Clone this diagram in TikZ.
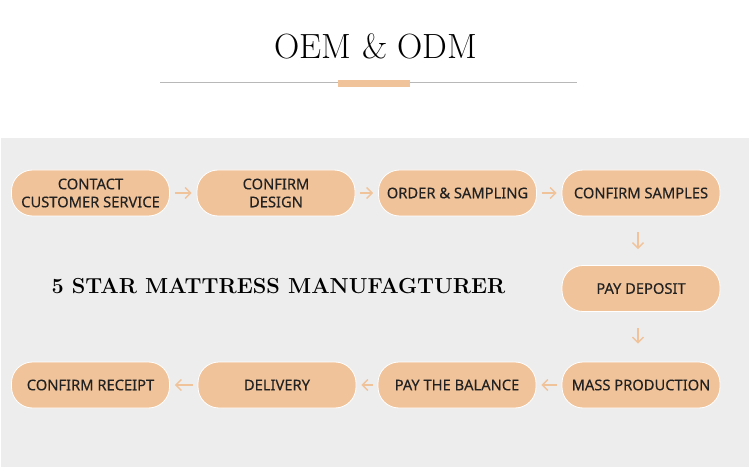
\documentclass[tikz,border=0pt]{standalone}
\usepackage{fontspec}
\newfontfamily\boxfont{Noto Sans}[FakeBold=0.25]
\usetikzlibrary{arrows.meta}
\definecolor{peach}{HTML}{F0C39A}
\definecolor{bggray}{HTML}{EDEDED}
\definecolor{txt}{HTML}{222222}
\begin{document}
\begin{tikzpicture}[x=1pt,y=-1pt,
  stepbox/.style={draw=white,line width=0.8pt,fill=peach,rounded corners=21pt,
    minimum width=158pt,minimum height=46pt,inner sep=0pt,align=center,
    font=\boxfont\fontsize{14.7}{18}\selectfont,text=txt},
  flow/.style={draw=peach,line width=1.4pt,-{Straight Barb[length=5.5pt,width=11pt]}}
]
\useasboundingbox (0,0) rectangle (750,473);
\fill[white] (0,0) rectangle (750,473);
\fill[bggray] (1,138) rectangle (749,467);
% title
\node[font=\fontsize{35}{40}\selectfont,text=black] (title) at (376,46) {OEM \& ODM};
\draw[draw=black!28,line width=0.8pt] (160,82) -- (577,82);
\fill[peach] (338,80) rectangle (410,87);
% side caption
\node[anchor=west,font=\bfseries\fontsize{21.7}{26}\selectfont,text=black] (cap) at (48,286) {5 STAR MATTRESS MANUFAGTURER};
% boxes
\node[stepbox] (a) at (90.5,193) {CONTACT\\CUSTOMER SERVICE};
\node[stepbox] (b) at (276,193) {CONFIRM\\DESIGN};
\node[stepbox] (c) at (457.5,193) {ORDER \& SAMPLING};
\node[stepbox] (d) at (641,193) {CONFIRM SAMPLES};
\node[stepbox] (e) at (641,288.5) {PAY DEPOSIT};
\node[stepbox] (f) at (641,385) {MASS PRODUCTION};
\node[stepbox] (g) at (457,385) {PAY THE BALANCE};
\node[stepbox] (h) at (277,385) {DELIVERY};
\node[stepbox] (i) at (90.5,385) {CONFIRM RECEIPT};
% arrows
\draw[flow,shorten <=5pt,shorten >=5pt] (a.east) -- (b.west);
\draw[flow,shorten <=5pt,shorten >=5pt] (b.east) -- (c.west);
\draw[flow,shorten <=5pt,shorten >=5pt] (c.east) -- (d.west);
\draw[flow,shorten <=16pt,shorten >=16pt] ([xshift=-3pt]d.south) -- ([xshift=-3pt]e.north);
\draw[flow,shorten <=16pt,shorten >=18pt] ([xshift=-3pt]e.south) -- ([xshift=-3pt]f.north);
\draw[flow,shorten <=5pt,shorten >=5pt] (f.west) -- (g.east);
\draw[flow,shorten <=5pt,shorten >=5pt] (g.west) -- (h.east);
\draw[flow,shorten <=5pt,shorten >=5pt] (h.west) -- (i.east);
\end{tikzpicture}
\end{document}
